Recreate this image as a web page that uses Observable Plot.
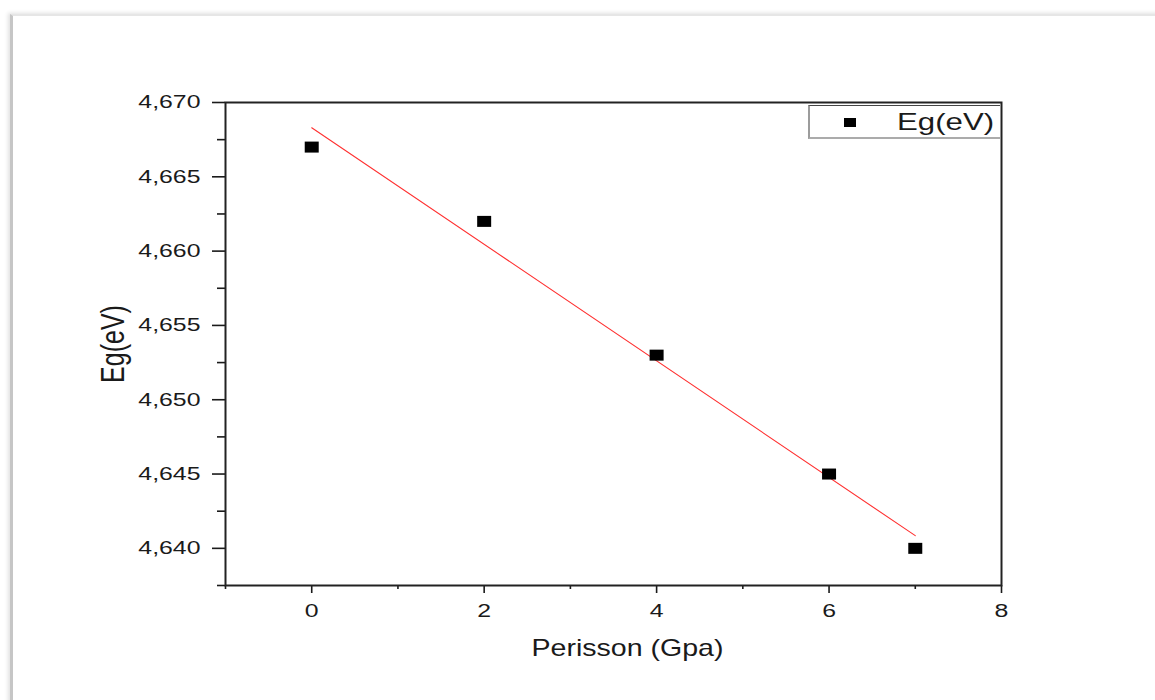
<!DOCTYPE html>
<html>
<head>
<meta charset="utf-8">
<script src="https://cdn.jsdelivr.net/npm/d3@7"></script>
<script src="https://cdn.jsdelivr.net/npm/@observablehq/plot@0.6"></script>
<style>
  html, body { margin: 0; padding: 0; background: #fff; }
  body { width: 1155px; height: 700px; position: relative; overflow: hidden; font-family: "Liberation Sans", Arial, sans-serif; }
  #sheet { position: absolute; left: 10px; top: 14px; width: 1300px; height: 900px;
    border-left: 3px solid #c6c6c6; border-top: 2px solid #e6e6e6;
    box-shadow: -2px -1px 4px rgba(0,0,0,0.12); background: #fff; }
  #chart { position: absolute; left: 0; top: 0; }
  #legend { position: absolute; left: 808px; top: 105px; width: 192px; height: 34px;
    border-top: 1.5px solid #444; border-left: 2px solid #9c9c9c; border-bottom: 2px solid #ababab;
    background: #fff; box-sizing: border-box; }
  #legend .sym { position: absolute; left: 34px; top: 12px; width: 12px; height: 9px; background: #000; }
  #legend .lab { position: absolute; left: 87px; top: 2px; font-size: 24px; line-height: 28px; color: #1a1a1a;
    transform: scaleX(1.3); transform-origin: 0 50%; white-space: nowrap; }
</style>
</head>
<body>
<div id="sheet"></div>
<div id="chart"></div>
<div id="legend"><div class="sym"></div><div class="lab">Eg(eV)</div></div>
<script>
// ---- data ----
const pressure = [0, 2, 4, 6, 7];
const egValues = [4.667, 4.662, 4.653, 4.645, 4.640];
const seriesName = "Eg(eV)";
const xTitle = "Perisson (Gpa)";
const yTitle = "Eg(eV)";
const xMajorTicks = [0, 2, 4, 6, 8];
const xMinorTicks = [-1, 1, 3, 5, 7];
const yMajorTicks = [4.640, 4.645, 4.650, 4.655, 4.660, 4.665, 4.670];
const yMinorTicks = [4.6375, 4.6425, 4.6475, 4.6525, 4.6575, 4.6625, 4.6675];

const table = pressure.map((p, i) => ({p, eg: egValues[i]}));
const fmt = d => d.toFixed(3).replace(".", ",");

const rectSymbol = { draw(ctx) { ctx.rect(-7, -5.5, 14, 11); } };

const chart = Plot.plot({
  width: 1155,
  height: 700,
  marginLeft: 225,
  marginRight: 154,
  marginTop: 102,
  marginBottom: 115,
  style: { fontFamily: "'Liberation Sans', Arial, sans-serif", fontSize: "18px", color: "#1a1a1a", background: "transparent" },
  x: { domain: [-1, 8], label: null },
  y: { domain: [4.6375, 4.670], label: null },
  marks: [
    Plot.axisX({ ticks: xMajorTicks, tickSize: 8, tickPadding: 11, tickFormat: d => String(d), label: null, strokeWidth: 1.6 }),
    Plot.axisX({ ticks: xMinorTicks, tickSize: 4, tickFormat: () => "", label: null, strokeWidth: 1.6 }),
    Plot.axisY({ ticks: yMajorTicks, tickSize: 13, tickPadding: 12, tickFormat: fmt, label: null, strokeWidth: 1.6 }),
    Plot.axisY({ ticks: yMinorTicks, tickSize: 8, tickFormat: () => "", label: null, strokeWidth: 1.6 }),
    Plot.linearRegressionY(table, { x: "p", y: "eg", stroke: "#ff3030", strokeWidth: 1.1, ci: 0 }),
    Plot.dot(table, { x: "p", y: "eg", symbol: rectSymbol, fill: "#000", stroke: null }),
    Plot.frame({ stroke: "#222", strokeWidth: 2 }),
    Plot.text([xTitle], { frameAnchor: "bottom", dx: 14, dy: 63, fontSize: 24, fill: "#1a1a1a", lineAnchor: "middle", textAnchor: "middle" }),
    Plot.text([yTitle], { frameAnchor: "left", dx: -112, rotate: -90, fontSize: 25, fill: "#1a1a1a", lineAnchor: "middle", textAnchor: "middle" })
  ]
});
document.getElementById("chart").appendChild(chart);

// horizontal stretch of the text, as in the reference rendering
d3.select(chart).selectAll("text").each(function () {
  const el = d3.select(this);
  const content = this.textContent;
  if (!content) return;
  let s;
  if (content === yTitle && (el.attr("transform") || "").includes("rotate")) s = "scale(1,1.3)";
  else if (content === xTitle) s = "scale(1.19,1)";
  else s = "scale(1.38,1)";
  const t = el.attr("transform");
  if (t) el.attr("transform", t + " " + s);
  else {
    const x = +el.attr("x") || 0, y = +el.attr("y") || 0;
    el.attr("transform", `translate(${x},${y}) ${s} translate(${-x},${-y})`);
  }
});
</script>
</body>
</html>
